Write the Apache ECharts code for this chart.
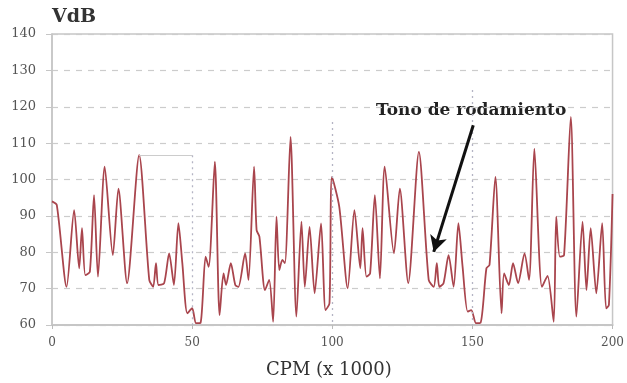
<!DOCTYPE html>
<html>
<head>
<meta charset="utf-8">
<script src="https://cdn.jsdelivr.net/npm/echarts@6/dist/echarts.min.js"></script>
<style>html,body{margin:0;padding:0;background:#fff}#c{width:627px;height:383px}</style>
</head>
<body>
<div id="c"></div>
<script>
// CPM (x 1000) positions of the traced points
const cpm = [0,1.7,5.2,7.9,9.7,10.7,11.9,13.5,15,16.4,18.8,21.7,23.7,26.8,31.1,34.7,36.1,37.1,38.0,40,41.8,43.5,45.1,46.5,48.3,50,51.4,53,54.8,55.9,58.1,59.8,61.2,62.1,63.8,65.4,66.5,68.9,70.1,72.1,73,74,76,77.5,78.9,80.1,81.1,82.2,83.1,85.1,87.2,89,90.2,91.9,93.7,96,97.6,99,99.9,102.5,105.5,107.9,110,110.8,112.2,113.5,115.2,117,118.7,122,124.1,127.1,130.9,134.4,136.2,137.3,138.2,139.7,141.5,143.3,145,146.5,148.3,149.6,151.3,152.9,155,156.1,158.2,160.4,161.3,163,164.5,166.3,168.6,170.2,172.1,174.8,176.8,179,179.9,181.2,182.7,185.1,187.1,189.3,190.7,192.2,194.2,196.3,197.7,198.7,200];
// VdB values
const vdb = [94,93,70.5,91.6,75.6,86.6,73.7,74.6,95.7,73.3,103.5,79.2,97.5,71.5,106.7,72.4,70.5,77,71,71.5,79.7,71,88,77,63.2,64.6,60.5,60.6,78.8,76,104.9,62.7,74.2,71,77,71,70.5,79.7,72.4,103.5,86.1,84.3,69.6,72.4,60.9,89.8,75.1,77.9,77,111.7,62.3,88.4,70.5,87,68.7,87.9,64.1,66,100.7,92.5,70.1,91.6,75.6,86.6,73.3,74.2,95.7,72.8,103.5,79.7,97.5,71.5,107.6,72.4,70.5,77,70.5,71.5,79.2,70.5,88,76,63.7,64.1,60.5,60.6,75.6,76.5,100.7,63.2,74.2,71,77,71.5,79.7,72.4,108.5,70.5,73.5,60.9,89.8,78.8,79.2,117.2,62.3,88.4,69.6,86.6,68.7,88,64.6,65.5,96];
const yTicks = [60,70,80,90,100,110,120,130,140];
const xTicks = [0,50,100,150,200];
// cursor marker lines: [x, top value]
const cursorX = [50,100,150];
const cursorTop = [106.7,115.8,124.6];
const cursorRef = {from:31.1, to:50, level:106.7};
// annotation arrow: start and tip (data coords)
const arrowFrom = [150.3,114.9];
const arrowTo = [136.2,80.1];
const noteText = 'Tono de rodamiento';

const data = cpm.map((x,i)=>[x,vdb[i]]);
const ml = [];
cursorX.forEach((x,i)=>{
  ml.push([{coord:[x,cursorTop[i]],lineStyle:{type:[2,4],color:'#b4b4c4',width:1.3}},{coord:[x,60]}]);
});
ml.push([{coord:[cursorRef.from,cursorRef.level],lineStyle:{type:'solid',color:'#cccccc',width:1}},{coord:[cursorRef.to,cursorRef.level]}]);

const chart = echarts.init(document.getElementById('c'),null,{renderer:'canvas'});
chart.setOption({
  animation:false,
  backgroundColor:'#fff',
  grid:{left:52,right:9,top:34,bottom:58,show:true,borderColor:'#c6c6c6',borderWidth:1.5},
  xAxis:{type:'value',min:0,max:200,interval:50,
    axisLine:{show:true,lineStyle:{color:'#c6c6c6',width:2}},
    axisTick:{show:true,length:4,lineStyle:{color:'#bbb'}},
    axisLabel:{color:'#555',fontFamily:'DejaVu Serif',fontSize:12,margin:12,
      formatter:v=>xTicks.includes(v)?String(v):''},
    splitLine:{show:false}},
  yAxis:{type:'value',min:60,max:140,interval:10,
    axisLine:{show:true,lineStyle:{color:'#c6c6c6',width:1.5}},
    axisTick:{show:true,length:6,lineStyle:{color:'#c6c6c6'}},
    axisLabel:{color:'#555',fontFamily:'DejaVu Serif',fontSize:13,margin:16,
      formatter:v=>yTicks.includes(v)?String(v):''},
    splitLine:{show:true,lineStyle:{type:[6,6],color:'#cccccc',width:1.2}}},
  graphic:[
    {type:'text',left:52,top:8,style:{text:'VdB',font:'bold 19px "DejaVu Serif"',fill:'#333'}},
    {type:'text',left:266,top:361,style:{text:'CPM (x 1000)',font:'18px "DejaVu Serif"',fill:'#333'}},
    {type:'text',left:376,top:102,style:{text:noteText,font:'bold 17px "DejaVu Serif"',fill:'#222'}}
  ],
  series:[
    {type:'line',data:data,smooth:0.25,showSymbol:false,
     lineStyle:{color:'#a9454d',width:1.8},
     markLine:{silent:true,symbol:['none','none'],label:{show:false},animation:false,data:ml}},
    {type:'line',data:[],
     markLine:{silent:true,symbol:['none','arrow'],symbolSize:[13,16],label:{show:false},animation:false,
       lineStyle:{type:'solid',color:'#111',width:3},
       data:[[{coord:arrowFrom},{coord:arrowTo}]]}}
  ]
});
</script>
</body>
</html>
